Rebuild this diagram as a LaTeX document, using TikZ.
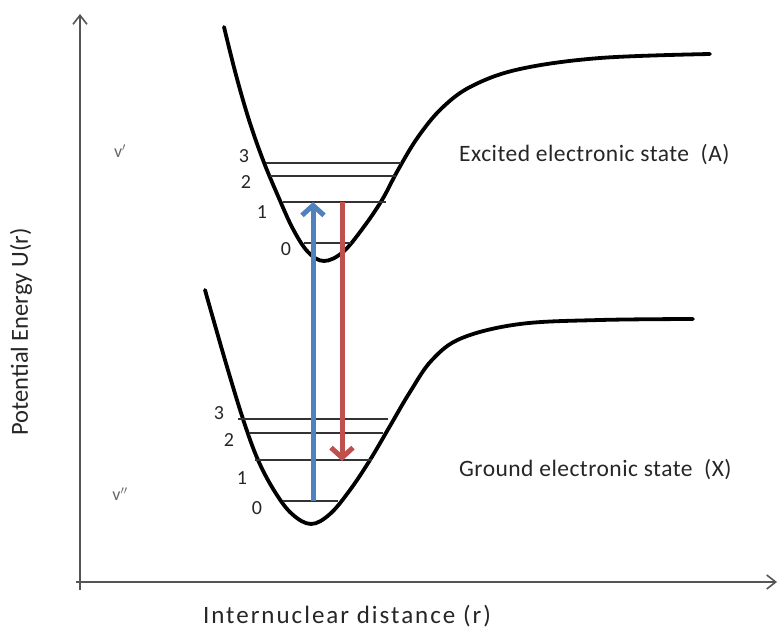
\documentclass[tikz,border=0pt]{standalone}
\usepackage{fontspec}
\setmainfont{Carlito}
\newfontfamily\spaced[LetterSpace=8]{Carlito}
\newfontfamily\slight[LetterSpace=2]{Carlito}
\usetikzlibrary{arrows.meta}
\definecolor{axisgray}{HTML}{555555}
\definecolor{txt}{HTML}{262626}
\definecolor{bluearr}{HTML}{4F81BD}
\definecolor{redarr}{HTML}{C0504D}
\tikzset{
  axisline/.style={draw=axisgray, line width=1.6pt, -{Straight Barb[length=9pt,width=14pt,line width=1.6pt]}},
  curve/.style={draw=black, line width=3.8pt, line cap=round},
  level/.style={draw=black!80, line width=1.3pt},
  lbl/.style={font=\fontsize{20}{20}\selectfont, text=txt, inner sep=0pt},
  statelbl/.style={font=\slight\fontsize{23.5}{24}\selectfont, text=txt, inner sep=0pt, anchor=west},
  vlbl/.style={font=\fontsize{18}{18}\selectfont, text=black!60, inner sep=0pt},
  trans/.style={line width=5pt, -{Straight Barb[length=10pt,width=22pt,line width=5pt]}},
}
\begin{document}
\begin{tikzpicture}[x=1pt,y=-1pt]
\useasboundingbox (0,0) rectangle (780,631);
% axes
\coordinate (ytop) at (80,14);
\coordinate (xend) at (777,582);
\draw[axisline] (80,590) -- (ytop);
\draw[axisline] (76,582) -- (xend);
% excited curve
\draw[curve] plot[smooth, tension=0.6] coordinates {(224,27) (236,75) (249,120) (263,160) (278,196) (293,229) (308,252) (324,261) (343,252) (363,228) (382,200) (398,170) (418,137) (442,108) (472,86) (520,69) (600,58) (710,54)};
% ground curve
\draw[curve] plot[smooth, tension=0.6] coordinates {(205,290) (225,360) (243,419) (258,460) (275,492) (292,514) (311,524) (330,514) (350,490) (370,460) (390,426) (410,392) (432,360) (462,338) (520,324) (600,320) (693,319)};
% excited levels
\coordinate (e3l) at (266,163); \coordinate (e3r) at (401,163);
\coordinate (e2l) at (270,176); \coordinate (e2r) at (396,176);
\coordinate (e1l) at (283,202); \coordinate (e1r) at (386,202);
\coordinate (e0l) at (304,243); \coordinate (e0r) at (351,243);
\draw[level] (e3l) -- (e3r);
\draw[level] (e2l) -- (e2r);
\draw[level] (e1l) -- (e1r);
\draw[level] (e0l) -- (e0r);
% ground levels
\coordinate (g3l) at (238,419); \coordinate (g3r) at (388,419);
\coordinate (g2l) at (249,433); \coordinate (g2r) at (383,433);
\coordinate (g1l) at (255,460); \coordinate (g1r) at (372,460);
\coordinate (g0l) at (283,501); \coordinate (g0r) at (338,501);
\draw[level] (g3l) -- (g3r);
\draw[level] (g2l) -- (g2r);
\draw[level] (g1l) -- (g1r);
\draw[level] (g0l) -- (g0r);
% level numbers
\node[lbl] (n3e) at (244,156) {3};
\node[lbl] (n2e) at (246,182) {2};
\node[lbl] (n1e) at (262,212) {1};
\node[lbl] (n0e) at (286,249) {0};
\node[lbl] (n3g) at (219,413) {3};
\node[lbl] (n2g) at (229,440) {2};
\node[lbl] (n1g) at (242,478) {1};
\node[lbl] (n0g) at (257,508) {0};
% v labels
\node[vlbl] (vexc) at (120,151) {v$'$};
\node[vlbl] (vgnd) at (120,494) {v$''$};
% transitions
\coordinate (bstart) at (313,501);
\coordinate (bend) at (313,202);
\coordinate (rstart) at (342,202);
\coordinate (rend) at (342,461);
\draw[trans, bluearr] (bstart) -- (bend);
\draw[trans, redarr] (rstart) -- (rend);
% state labels
\node[statelbl] (exc) at (459,155) {Excited electronic state~~(A)};
\node[statelbl] (gnd) at (459,470) {Ground electronic state~~(X)};
% axis labels
\node[font=\spaced\fontsize{25}{25}\selectfont, text=txt, inner sep=0pt] (xl) at (347,616) {Internuclear distance (r)};
\node[font=\fontsize{24.5}{25}\selectfont, text=txt, inner sep=0pt, rotate=90] (yl) at (21,332) {Potential Energy U(r)};
\end{tikzpicture}
\end{document}
